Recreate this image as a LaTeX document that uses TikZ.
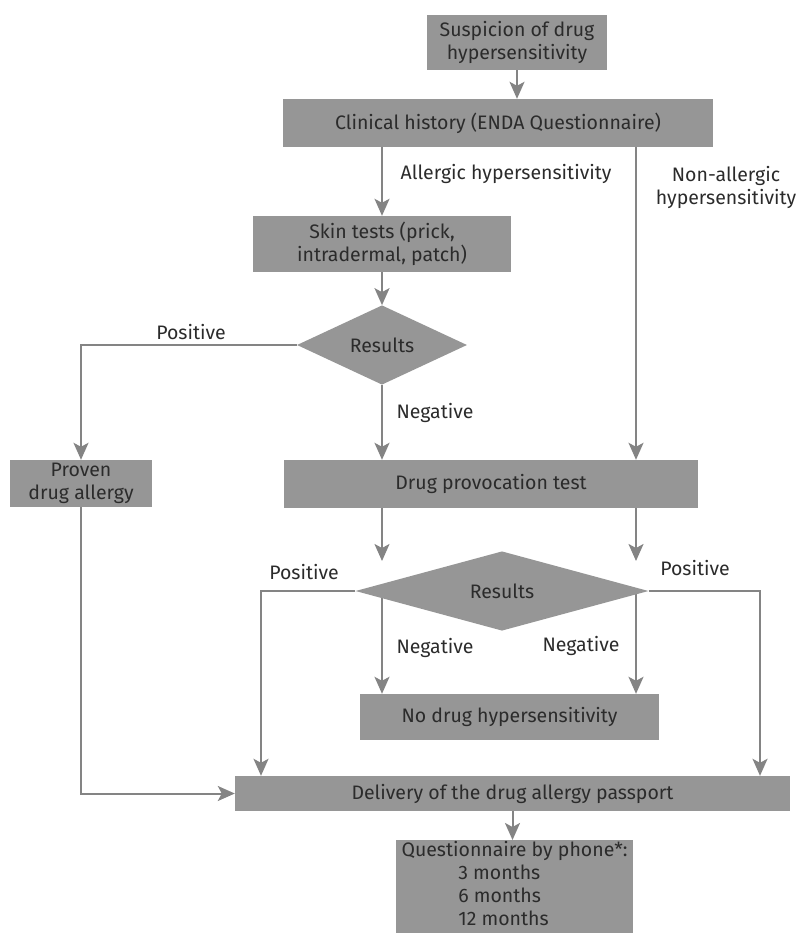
\documentclass[tikz,border=0pt]{standalone}
\usepackage{fontspec}
\setmainfont{Fira Sans}
\usetikzlibrary{positioning,shapes.geometric,arrows.meta,backgrounds}
\definecolor{boxgray}{HTML}{969696}
\definecolor{linegray}{HTML}{848484}
\definecolor{txtgray}{HTML}{2B2B2B}

\begin{document}
\begin{tikzpicture}[x=1pt,y=-1pt,font=\fontsize{19.5}{23}\selectfont,
  >={Stealth[length=17pt,width=15pt,inset=4pt]}]
\tikzstyle{box}=[rectangle, fill=boxgray, text=txtgray, align=center, inner sep=0pt]
\tikzstyle{dia}=[diamond, fill=boxgray, text=txtgray, inner sep=0pt]
\tikzstyle{conn}=[draw=linegray, line width=2pt]
\tikzstyle{lbl}=[text=txtgray, inner sep=0pt, align=center]
\useasboundingbox (0,0) rectangle (796,933);
% boxes
\node[box, minimum width=180pt, minimum height=55pt] (susp) at (517,42.5) {Suspicion of drug\\hypersensitivity};
\node[box, minimum width=430pt, minimum height=48pt] (hist) at (498,123) {Clinical history (ENDA Questionnaire)};
\node[box, minimum width=258pt, minimum height=56pt] (skin) at (382,244) {Skin tests (prick,\\intradermal, patch)};
\node[dia, minimum width=170pt, minimum height=64pt] (res1) at (382,345) {Results};
\node[box, minimum width=142pt, minimum height=47pt] (proven) at (81,483.5) {Proven\\drug allergy};
\node[box, minimum width=414pt, minimum height=48pt] (dpt) at (491,484) {Drug provocation test};
\node[dia, minimum width=293pt, minimum height=70pt] (res2) at (502,591) {Results};
\node[box, minimum width=299pt, minimum height=46pt] (nodrug) at (509.5,717) {No drug hypersensitivity};
\node[box, minimum width=555pt, minimum height=35pt] (deliv) at (512.5,793.5) {Delivery of the drug allergy passport};
\node[box, minimum width=237pt, minimum height=93pt, anchor=north] (quest) at (514.5,840)
  {Questionnaire by phone*:\\\begin{tabular}[t]{@{}l@{}}3 months\\6 months\\12 months\end{tabular}\hspace*{22pt}};
% labels
\node[lbl, anchor=base] (allerg) at (506,180) {Allergic hypersensitivity};
\node[lbl, anchor=base] (nonallerg) at (726,205) {Non-allergic\\hypersensitivity};
\node[lbl, anchor=base] (pos1) at (191,339) {Positive};
\node[lbl, anchor=base] (neg1) at (435,418) {Negative};
\node[lbl, anchor=base] (pos2) at (304,579) {Positive};
\node[lbl, anchor=base] (pos3) at (695,575) {Positive};
\node[lbl, anchor=base] (neg2) at (435,653) {Negative};
\node[lbl, anchor=base] (neg3) at (581,651) {Negative};
% helper coordinates
\coordinate (na) at (636,0);
\coordinate (a1) at (382,561);
\coordinate (a2) at (636,561);
\coordinate (pl) at (261,0);
\coordinate (pr) at (760,0);
% connectors
\draw[conn,->] (susp.south) -- (susp.south |- hist.north);
\draw[conn,->] (skin.north |- hist.south) -- (skin.north);
\draw[conn,->] (hist.south -| na) -- (dpt.north -| na);
\draw[conn,->] (skin.south) -- (res1.north);
\draw[conn,->] (res1.west) -| (proven.north);
\draw[conn,->] (res1.south) -- (res1.south |- dpt.north);
\draw[conn,->] (dpt.south -| a1) -- (a1);
\draw[conn,->] (dpt.south -| a2) -- (a2);
\begin{scope}[on background layer]
\draw[conn,->] (res2.center -| a1) -- (nodrug.north -| a1);
\draw[conn,->] (res2.center -| a2) -- (nodrug.north -| a2);
\end{scope}
\draw[conn,->] (res2.west) -- (res2.west -| pl) -- (deliv.north -| pl);
\draw[conn,->] (res2.east) -- (res2.east -| pr) -- (deliv.north -| pr);
\draw[conn,->] (proven.south) |- (deliv.west);
\draw[conn,->] (deliv.south) -- (deliv.south |- quest.north);
\end{tikzpicture}
\end{document}
